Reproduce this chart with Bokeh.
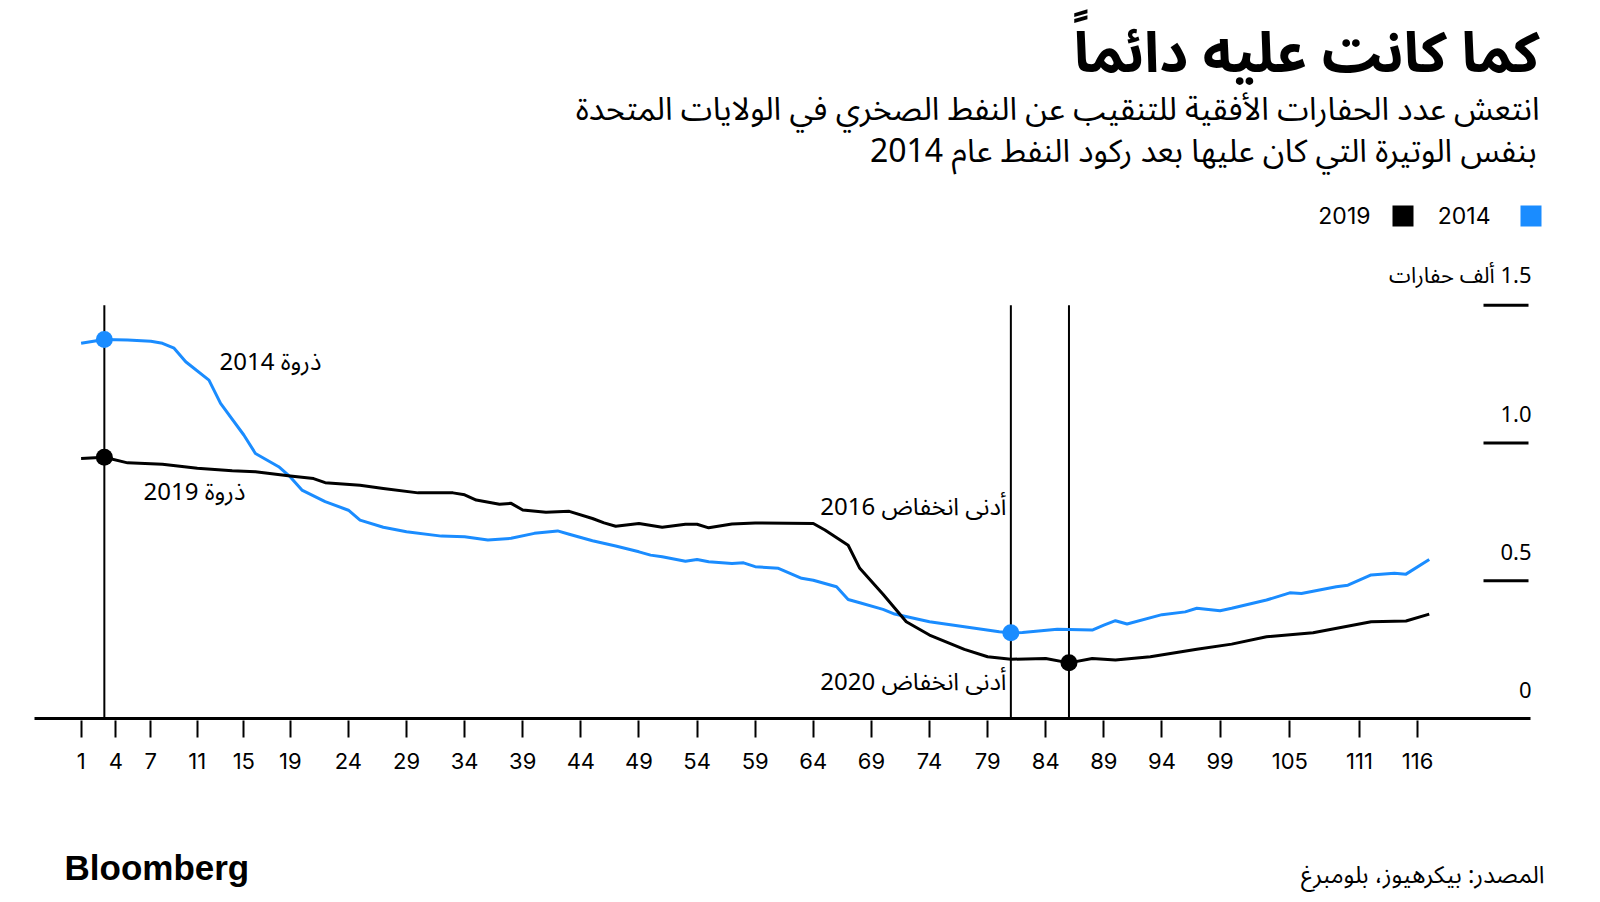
from bokeh.plotting import figure
from bokeh.layouts import column
from bokeh.models import Range1d, FixedTicker, Label
from bokeh.embed import file_html
from bokeh.resources import INLINE
from bokeh.core.properties import value

# ---------------- data (thousands of horizontal rigs, by week since peak) -------------
weeks_2014 = [1, 3, 5, 7, 8, 9, 10, 12, 13, 15, 16, 18, 19, 20, 22, 24, 25, 27, 29, 32,
              34, 36, 38, 40, 42, 43, 45, 47, 49, 50, 51, 53, 54, 55, 57, 58, 59, 61, 63,
              64, 66, 67, 68, 70, 71, 74, 77, 80, 81, 82, 85, 88, 89, 90, 91, 94, 96, 97,
              99, 100, 103, 105, 106, 109, 110, 112, 114, 115, 117]
rigs_2014 = [1.362, 1.376, 1.374, 1.369, 1.362, 1.344, 1.295, 1.228, 1.144, 1.029, 0.962,
             0.914, 0.877, 0.829, 0.787, 0.756, 0.720, 0.694, 0.678, 0.662, 0.660, 0.648,
             0.654, 0.672, 0.681, 0.669, 0.645, 0.626, 0.605, 0.593, 0.587, 0.571, 0.577,
             0.569, 0.563, 0.565, 0.551, 0.545, 0.509, 0.502, 0.478, 0.432, 0.420, 0.396,
             0.379, 0.351, 0.333, 0.315, 0.311, 0.312, 0.324, 0.321, 0.339, 0.355, 0.343,
             0.377, 0.387, 0.400, 0.391, 0.400, 0.430, 0.456, 0.454, 0.478, 0.484, 0.521,
             0.527, 0.524, 0.577]

weeks_2019 = [1, 3, 5, 8, 11, 14, 16, 19, 21, 22, 25, 27, 30, 33, 34, 35, 37, 38, 39, 41,
              43, 45, 46, 47, 49, 51, 53, 54, 55, 57, 59, 64, 65, 67, 68, 70, 72, 74, 77,
              79, 81, 84, 86, 88, 90, 93, 97, 100, 103, 107, 112, 115, 117]
rigs_2019 = [0.944, 0.948, 0.928, 0.923, 0.908, 0.899, 0.896, 0.880, 0.871, 0.856, 0.847,
             0.835, 0.819, 0.819, 0.812, 0.793, 0.778, 0.781, 0.757, 0.749, 0.752, 0.726,
             0.710, 0.698, 0.708, 0.694, 0.705, 0.705, 0.692, 0.706, 0.710, 0.708, 0.684,
             0.629, 0.545, 0.451, 0.351, 0.303, 0.251, 0.224, 0.215, 0.218, 0.202, 0.218,
             0.212, 0.224, 0.251, 0.270, 0.297, 0.311, 0.351, 0.354, 0.379]

series_names = ["2014", "2019"]
series_colors = ["#1a8cff", "#000000"]

x_ticks = [1, 4, 7, 11, 15, 19, 24, 29, 34, 39, 44, 49, 54, 59, 64, 69, 74, 79, 84, 89,
           94, 99, 105, 111, 116]
y_ticks = [0, 0.5, 1.0, 1.5]
y_tick_labels = ["0", "0.5", "1.0", "1.5"]
y_unit = "ألف حفارات"

title = "كما كانت عليه دائماً"
subtitle_1 = "انتعش عدد الحفارات الأفقية للتنقيب عن النفط الصخري في الولايات المتحدة"
subtitle_2 = "بنفس الوتيرة التي كان عليها بعد ركود النفط عام 2014"
source = "المصدر: بيكرهيوز، بلومبرغ"
note_peak_2014 = "ذروة 2014"
note_peak_2019 = "ذروة 2019"
note_low_2016 = "أدنى انخفاض 2016"
note_low_2020 = "أدنى انخفاض 2020"

AR = "'Noto Sans Arabic', 'Noto Sans', 'DejaVu Sans', sans-serif"
LAT = "Inter, 'Noto Sans', sans-serif"

W = 1600
TOP_H, CHART_H, FOOT_H = 245, 547, 108


def blank(height):
    f = figure(width=W, height=height, x_range=Range1d(0, W), y_range=Range1d(height, 0),
               output_backend="svg", toolbar_location=None, x_axis_location=None,
               y_axis_location=None, min_border=0)
    f.outline_line_color = None
    f.xgrid.visible = False
    f.ygrid.visible = False
    return f


# ---------------- header ----------------
top = blank(TOP_H)
top.add_layout(Label(x=1539, y=53, text=title, text_align="right", text_baseline="middle",
                     text_font=AR, text_font_size="56px", text_font_style="bold",
                     text_color="black"))
top.add_layout(Label(x=1539, y=109, text=subtitle_1, text_align="right",
                     text_baseline="middle", text_font=AR, text_font_size="32px",
                     text_color="black"))
top.add_layout(Label(x=1536, y=151, text=subtitle_2, text_align="right",
                     text_baseline="middle", text_font=AR, text_font_size="32px",
                     text_color="black"))
top.scatter([1530.5, 1402.5], [215.5, 215.5], marker="square", size=21,
            fill_color=series_colors, line_color=None)
top.text(x=[1490, 1370], y=[215, 215], text=series_names, text_align="right",
         text_baseline="middle", text_font=value(LAT), text_font_size="23px",
         text_color="black")

# ---------------- chart ----------------
BB = 72
FH = CHART_H - BB
PX_WEEK = 11.622
PX_UNIT = 275.5
X0 = (0 - 68.98) / PX_WEEK
BASE = 718.0            # page y of the zero line
FRAME_BOTTOM = TOP_H + FH

x_range = Range1d(X0, X0 + W / PX_WEEK)
y_range = Range1d((BASE - FRAME_BOTTOM) / PX_UNIT, (BASE - TOP_H) / PX_UNIT)


def X(px):
    return X0 + px / PX_WEEK


def Y(py):
    return (BASE - py) / PX_UNIT


p = figure(width=W, height=CHART_H, x_range=x_range, y_range=y_range,
           output_backend="svg", toolbar_location=None, y_axis_location=None,
           min_border_left=0, min_border_right=0, min_border_top=0, min_border_bottom=BB)
p.outline_line_color = None
p.xgrid.visible = False
p.ygrid.visible = False

xa = p.xaxis[0]
xa.ticker = FixedTicker(ticks=x_ticks)
xa.axis_line_color = None
xa.major_tick_in = 0
xa.major_tick_out = 17
xa.major_tick_line_width = 2
xa.major_tick_line_color = "black"
xa.minor_tick_line_color = None
xa.major_label_text_font = LAT
xa.major_label_text_font_size = "22px"
xa.major_label_text_color = "black"
xa.major_label_standoff = 15

# zero line (axis baseline) and short y tick bars
p.segment(x0=[X(34)], y0=[y_ticks[0]], x1=[X(1530)], y1=[y_ticks[0]],
          line_color="black", line_width=3)
p.segment(x0=[X(1483)] * 3, y0=y_ticks[1:], x1=[X(1528)] * 3, y1=y_ticks[1:],
          line_color="black", line_width=3)

ylab = list(y_tick_labels)
ylab[-1] = "\u200f" + ylab[-1] + " " + y_unit
p.text(x=[X(1531)] * len(y_ticks), y=y_ticks, text=ylab, text_align="right",
       text_baseline="middle", y_offset=-29, text_font=value(AR),
       text_font_size="22px", text_color="black")

peak14 = weeks_2014[rigs_2014.index(max(rigs_2014))]
low14 = weeks_2014[rigs_2014.index(min(rigs_2014))]
peak19 = weeks_2019[rigs_2019.index(max(rigs_2019))]
low19 = weeks_2019[rigs_2019.index(min(rigs_2019))]
vlines = sorted(set([peak14, low14, peak19, low19]))
p.segment(x0=vlines, y0=[0] * len(vlines), x1=vlines, y1=[y_ticks[-1]] * len(vlines),
          line_color="black", line_width=2)

p.line(weeks_2014, rigs_2014, line_color=series_colors[0], line_width=3, line_join="round")
p.line(weeks_2019, rigs_2019, line_color=series_colors[1], line_width=3, line_join="round")

p.scatter([peak14, low14], [max(rigs_2014), min(rigs_2014)], size=17,
          fill_color=series_colors[0], line_color=None)
p.scatter([peak19, low19], [max(rigs_2019), min(rigs_2019)], size=17,
          fill_color=series_colors[1], line_color=None)

for txt, px, py, al in [(note_peak_2014, 219, 362, "left"),
                        (note_peak_2019, 143, 492, "left"),
                        (note_low_2016, 1006, 507, "right"),
                        (note_low_2020, 1006, 682, "right")]:
    p.add_layout(Label(x=X(px), y=Y(py), text=txt, text_align=al,
                       text_baseline="middle", text_font=AR, text_font_size="24px",
                       text_color="black"))

# ---------------- footer ----------------
foot = blank(FOOT_H)
F0 = TOP_H + CHART_H
foot.add_layout(Label(x=64, y=867 - F0, text="Bloomberg", text_align="left",
                      text_baseline="middle",
                      text_font="'Liberation Sans', Arial, sans-serif",
                      text_font_size="35px", text_font_style="bold", text_color="black"))
foot.add_layout(Label(x=1544, y=875 - F0, text=source, text_align="right",
                      text_baseline="middle", text_font=AR, text_font_size="24px",
                      text_color="black"))

layout = column(top, p, foot, spacing=0)
open("out.html", "w").write(file_html(layout, INLINE))
